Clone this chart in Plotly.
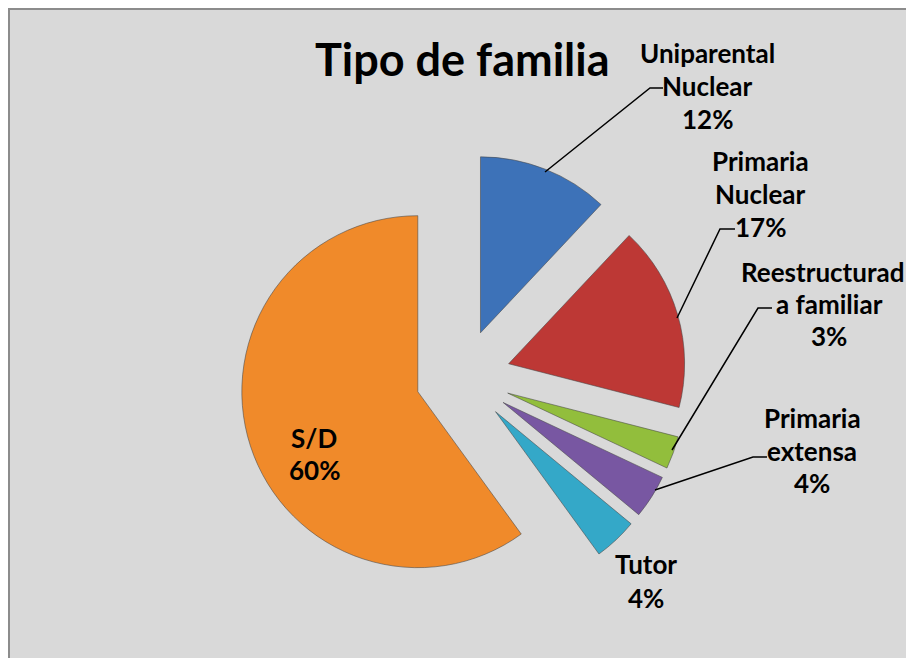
import plotly.graph_objects as go

# ---- data ----
categories = ["Uniparental Nuclear", "Primaria Nuclear", "Reestructurada familiar",
              "Primaria extensa", "Tutor", "S/D"]
values = [12, 17, 3, 4, 4, 60]
colors = ["#3d72b8", "#bd3835", "#92be3c", "#7857a2", "#34a8c8", "#f08a2a"]
label_lines = [["Uniparental", "Nuclear", "12%"],
               ["Primaria", "Nuclear", "17%"],
               ["Reestructurad", "a familiar", "3%"],
               ["Primaria", "extensa", "4%"],
               ["Tutor", "4%"],
               ["S/D", "60%"]]
title_text = "Tipo de familia"

W, H = 906, 658
FONT = "Lato, 'Liberation Sans Narrow', sans-serif"


def fx(x):
    return x / W


def fy(y):
    return 1 - y / H


fig = go.Figure(go.Pie(
    labels=categories, values=values, sort=False, direction="clockwise", rotation=0,
    pull=[0.27] * len(values),
    marker=dict(colors=colors, line=dict(color="rgba(70,70,70,0.55)", width=1)),
    textinfo="none", hoverinfo="label+percent", showlegend=False,
    domain=dict(x=[fx(239.5), fx(686.5)], y=[fy(600.5), fy(153.5)]),
))

# label layout (pixel positions of each text line centre)
OFF = 1
label_pos = [
    (707, [52, 85, 118]),
    (760, [160, 193, 226]),
    (829, [271, 303, 335]),
    (812, [417, 450, 482]),
    (646, [563, 597]),
    (314, [437, 469]),
]
annotations = []
for lines, (cx, ys) in zip(label_lines, label_pos):
    for t, yy in zip(lines, ys):
        ann = dict(text="<b>%s</b>" % t, x=fx(cx), y=fy(yy + OFF), xref="paper", yref="paper",
                   xanchor="center", yanchor="middle", showarrow=False,
                   font=dict(family=FONT, size=26, color="black"))
        if t == "Reestructurad":
            ann.update(x=fx(906), xanchor="right")
        annotations.append(ann)
annotations.append(dict(text="<b>%s</b>" % title_text, x=fx(463), y=fy(59), xref="paper", yref="paper",
                        xanchor="center", yanchor="middle", showarrow=False,
                        font=dict(family=FONT, size=45, color="black")))

# leader lines (pixel paths)
leaders = [
    [(663, 88), (650, 88), (545, 172)],
    [(735, 229), (720, 229), (677, 318)],
    [(772, 308), (758, 308), (672, 450)],
    [(767, 457), (753, 457), (655, 490)],
]
shapes = [dict(type="rect", xref="paper", yref="paper", x0=fx(9), y0=-0.05, x1=1.05, y1=fy(9),
               fillcolor="#d9d9d9", line=dict(color="#8c8c8c", width=2), layer="below")]
for pts in leaders:
    path = "M " + " L ".join("%f,%f" % (fx(a), fy(b)) for a, b in pts)
    shapes.append(dict(type="path", xref="paper", yref="paper", path=path,
                       line=dict(color="black", width=1.5), layer="above"))

fig.update_layout(
    width=W, height=H, margin=dict(l=0, r=0, t=0, b=0),
    paper_bgcolor="white", plot_bgcolor="white",
    annotations=annotations, shapes=shapes,
)
fig.write_html("out.html", config={"displayModeBar": False},
               post_script="document.body.style.margin='0px';document.body.style.overflow='hidden';")
